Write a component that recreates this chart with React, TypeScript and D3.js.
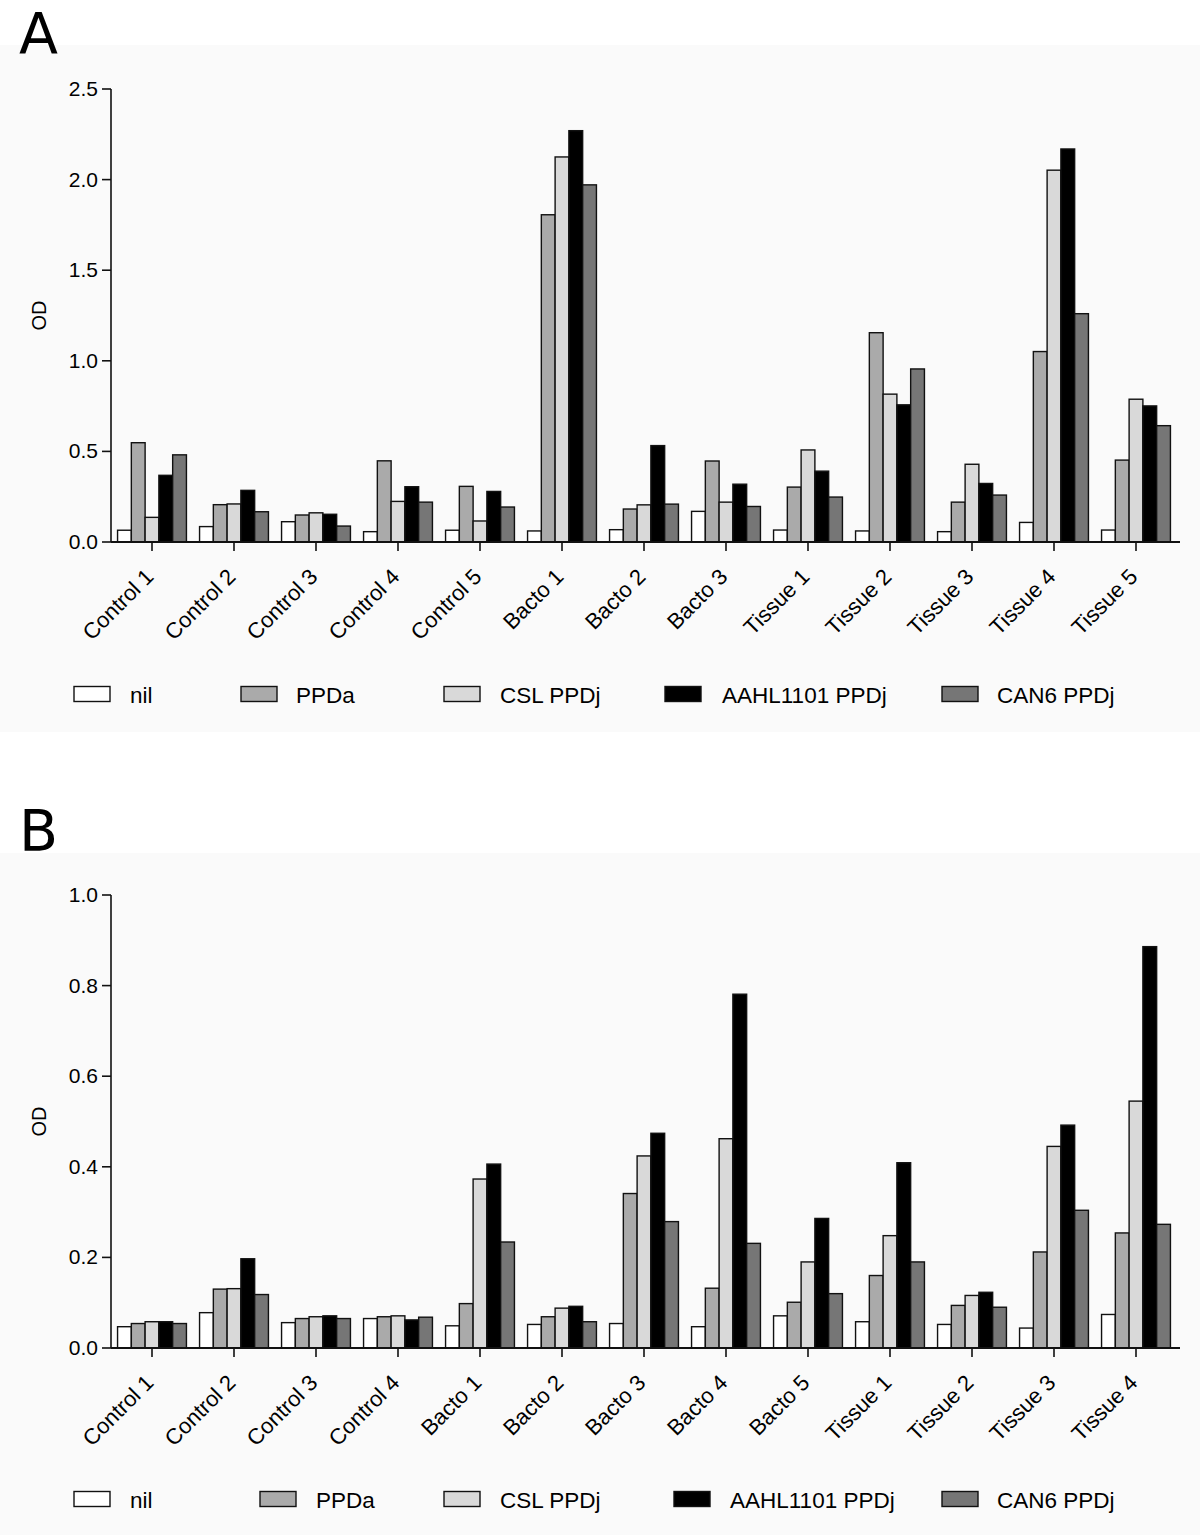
import React from "react";
import * as d3 from "d3";

const seriesNames = ["nil", "PPDa", "CSL PPDj", "AAHL1101 PPDj", "CAN6 PPDj"];
const seriesColors = ["#ffffff", "#aaaaaa", "#d9d9d9", "#000000", "#767676"];

const categoriesA = [
  "Control 1", "Control 2", "Control 3", "Control 4", "Control 5",
  "Bacto 1", "Bacto 2", "Bacto 3",
  "Tissue 1", "Tissue 2", "Tissue 3", "Tissue 4", "Tissue 5",
];
const nilA = [0.065, 0.085, 0.112, 0.057, 0.065, 0.061, 0.068, 0.169, 0.066, 0.061, 0.057, 0.108, 0.066];
const ppdaA = [0.548, 0.206, 0.149, 0.448, 0.307, 1.806, 0.182, 0.447, 0.303, 1.155, 0.22, 1.051, 0.452];
const cslA = [0.136, 0.21, 0.161, 0.224, 0.116, 2.125, 0.205, 0.22, 0.508, 0.816, 0.429, 2.052, 0.788];
const aahlA = [0.368, 0.285, 0.153, 0.305, 0.279, 2.27, 0.532, 0.319, 0.391, 0.757, 0.323, 2.169, 0.751];
const can6A = [0.481, 0.167, 0.088, 0.22, 0.193, 1.971, 0.209, 0.196, 0.248, 0.955, 0.259, 1.26, 0.642];
const ticksA = [0, 0.5, 1.0, 1.5, 2.0, 2.5];

const categoriesB = [
  "Control 1", "Control 2", "Control 3", "Control 4",
  "Bacto 1", "Bacto 2", "Bacto 3", "Bacto 4", "Bacto 5",
  "Tissue 1", "Tissue 2", "Tissue 3", "Tissue 4",
];
const nilB = [0.047, 0.078, 0.056, 0.065, 0.049, 0.052, 0.054, 0.047, 0.071, 0.058, 0.052, 0.044, 0.074];
const ppdaB = [0.054, 0.13, 0.065, 0.069, 0.098, 0.069, 0.341, 0.132, 0.101, 0.16, 0.094, 0.212, 0.254];
const cslB = [0.058, 0.131, 0.069, 0.071, 0.373, 0.088, 0.424, 0.462, 0.19, 0.248, 0.116, 0.445, 0.545];
const aahlB = [0.058, 0.197, 0.071, 0.062, 0.406, 0.092, 0.474, 0.781, 0.286, 0.409, 0.123, 0.492, 0.886];
const can6B = [0.054, 0.118, 0.065, 0.068, 0.234, 0.058, 0.279, 0.231, 0.12, 0.19, 0.09, 0.304, 0.273];
const ticksB = [0, 0.2, 0.4, 0.6, 0.8, 1.0];

const FONT = "'Liberation Sans', Arial, Helvetica, sans-serif";

type PanelProps = {
  letter: string;
  categories: string[];
  values: number[][];
  ticks: number[];
  yMax: number;
  bgTop: number;
  bgBottom: number;
  letterY: number;
  yTop: number;
  yBottom: number;
  legendY: number;
  legendBoxX: number[];
  legendTextX: number[];
};

function Panel(p: PanelProps) {
  const x0 = 111;
  const x1 = 1177;
  const x = d3.scaleBand<string>().domain(p.categories).range([x0, x1]).paddingInner(0.16).paddingOuter(0.08);
  const inner = d3.scaleBand<number>().domain(d3.range(seriesNames.length)).range([0, x.bandwidth()]).padding(0);
  const y = d3.scaleLinear().domain([0, p.yMax]).range([p.yBottom, p.yTop]);
  const fmt = d3.format(".1f");
  return (
    <g>
      <rect x={0} y={p.bgTop} width={1200} height={p.bgBottom - p.bgTop} fill="#fafafa" />
      <text x={19} y={p.letterY} fontFamily="'DejaVu Sans', sans-serif" fontSize={57} fill="#000">{p.letter}</text>
      {p.categories.map((c, ci) => (
        <g key={c}>
          {p.values.map((vals, si) => (
            <rect
              key={si}
              x={(x(c) as number) + (inner(si) as number)}
              y={y(vals[ci])}
              width={inner.bandwidth()}
              height={y(0) - y(vals[ci])}
              fill={seriesColors[si]}
              stroke="#111"
              strokeWidth={1.4}
            />
          ))}
        </g>
      ))}
      <line x1={x0} x2={x0} y1={y(p.yMax)} y2={y(0)} stroke="#111" strokeWidth={1.6} />
      {p.ticks.map((t) => (
        <g key={t}>
          <line x1={x0 - 9} x2={x0} y1={y(t)} y2={y(t)} stroke="#111" strokeWidth={1.6} />
          <text x={x0 - 13} y={y(t) + 7} textAnchor="end" fontFamily={FONT} fontSize={21} fill="#000">{fmt(t)}</text>
        </g>
      ))}
      <text
        transform={`translate(46,${(y(0) + y(p.yMax)) / 2}) rotate(-90)`}
        textAnchor="middle"
        fontFamily={FONT}
        fontSize={20}
        fill="#000"
      >OD</text>
      <line x1={x0} x2={x1 + 3} y1={y(0)} y2={y(0)} stroke="#111" strokeWidth={1.8} />
      {p.categories.map((c) => {
        const cx = (x(c) as number) + x.bandwidth() / 2;
        return (
          <g key={c}>
            <line x1={cx} x2={cx} y1={y(0)} y2={y(0) + 9} stroke="#111" strokeWidth={1.6} />
            <text
              transform={`translate(${cx + 3},${y(0) + 36}) rotate(-45)`}
              textAnchor="end"
              fontFamily={FONT}
              fontSize={22}
              fill="#000"
            >{c}</text>
          </g>
        );
      })}
      {seriesNames.map((s, si) => (
        <g key={s}>
          <rect x={p.legendBoxX[si]} y={p.legendY - 7.5} width={36} height={15} fill={seriesColors[si]} stroke="#111" strokeWidth={1.4} />
          <text x={p.legendTextX[si]} y={p.legendY + 8.5} fontFamily={FONT} fontSize={22.5} fill="#000">{s}</text>
        </g>
      ))}
    </g>
  );
}

export default function App() {
  return (
    <svg width={1200} height={1535} style={{ position: "absolute", left: 0, top: 0 }} xmlns="http://www.w3.org/2000/svg">
      <rect x={0} y={0} width={1200} height={1535} fill="#ffffff" />
      <Panel
        letter="A"
        categories={categoriesA}
        values={[nilA, ppdaA, cslA, aahlA, can6A]}
        ticks={ticksA}
        yMax={2.5}
        bgTop={45}
        bgBottom={732}
        letterY={54}
        yTop={89}
        yBottom={542}
        legendY={694}
        legendBoxX={[74, 241, 444, 665, 942]}
        legendTextX={[130, 296, 500, 722, 997]}
      />
      <Panel
        letter="B"
        categories={categoriesB}
        values={[nilB, ppdaB, cslB, aahlB, can6B]}
        ticks={ticksB}
        yMax={1.0}
        bgTop={853}
        bgBottom={1535}
        letterY={851}
        yTop={895}
        yBottom={1348}
        legendY={1499}
        legendBoxX={[74, 260, 444, 674, 942]}
        legendTextX={[130, 316, 500, 730, 997]}
      />
    </svg>
  );
}
